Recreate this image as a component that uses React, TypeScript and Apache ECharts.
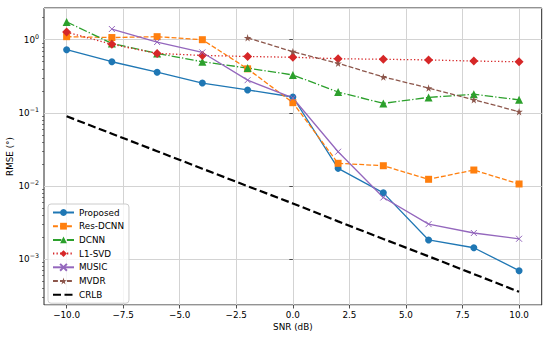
import React, { useEffect, useRef } from 'react';
import * as echarts from 'echarts';

const snr = [-10, -8, -6, -4, -2, 0, 2, 4, 6, 8, 10];
const proposed = [0.73, 0.5, 0.36, 0.256, 0.206, 0.165, 0.0175, 0.0081, 0.00184, 0.00144, 0.0007];
const resDcnn = [1.1, 1.07, 1.1, 1.0, 0.4, 0.138, 0.0205, 0.019, 0.0124, 0.0166, 0.0107];
const dcnn = [1.75, 0.89, 0.65, 0.5, 0.41, 0.33, 0.193, 0.135, 0.163, 0.18, 0.151];
const l1svd = [1.27, 0.865, 0.65, 0.61, 0.59, 0.575, 0.55, 0.54, 0.53, 0.51, 0.5];
const music = [null, 1.4, 0.93, 0.67, 0.28, 0.16, 0.0295, 0.007, 0.00303, 0.00229, 0.00191];
const mvdr = [null, null, null, null, 1.06, 0.686, 0.476, 0.31, 0.219, 0.151, 0.104];
const crlb = [0.09, 0.052, 0.03, 0.0173, 0.01, 0.0058, 0.0033, 0.0019, 0.0011, 0.00063, 0.00036];

const xTickValues = [-10, -7.5, -5, -2.5, 0, 2.5, 5, 7.5, 10];
const yMinorTickValues: number[] = [];
for (let e = -4; e <= 0; e++) {
  for (let m = 2; m <= 9; m++) {
    const v = m * Math.pow(10, e);
    if (v > 0.000238 && v < 2.71) yMinorTickValues.push(v);
  }
}

const FONT = 'DejaVu Sans';
const FS = 8.8;

const pairs = (ys: (number | null)[]) =>
  snr.map((x, i) => [x, ys[i]] as [number, number | null]).filter((p) => p[1] !== null);

const STAR = 'path://M50,0 L61,35 L98,35 L68,57 L79,91 L50,70 L21,91 L32,57 L2,35 L39,35 Z';
const XMARK = 'path://M0,0 L10,10 M10,0 L0,10';

export default function App() {
  const ref = useRef<HTMLDivElement>(null);
  useEffect(() => {
    if (!ref.current) return;
    const chart = echarts.init(ref.current, undefined, { renderer: 'svg' });
    const lw = 1.3;
    const mk = (
      name: string,
      data: (number | null)[],
      color: string,
      symbol: string,
      symbolSize: number,
      dash: any,
      width = lw,
      extraItem: any = {}
    ) => ({
      name,
      type: 'line',
      data: pairs(data),
      symbol,
      symbolSize,
      showSymbol: symbolSize > 0,
      lineStyle: { color, width, type: dash },
      itemStyle: { color, ...extraItem },
      emphasis: { disabled: true },
      z: 3,
    });
    const minus = (s: string) => s.replace('-', '\u2212');
    chart.setOption({
      animation: false,
      backgroundColor: '#ffffff',
      textStyle: { fontFamily: FONT },
      grid: {
        left: 44,
        right: 8.3,
        top: 8,
        bottom: 32,
        show: true,
        borderColor: '#262626',
        borderWidth: 1,
        backgroundColor: 'transparent',
        outerBoundsMode: 'none',
        containLabel: false,
      },
      legend: {
        left: 48,
        top: 204,
        orient: 'vertical',
        itemWidth: 21,
        itemHeight: 8.5,
        itemGap: 4.7,
        padding: [4, 5, 4, 4],
        backgroundColor: 'rgba(255,255,255,0.8)',
        borderColor: '#cccccc',
        borderWidth: 1,
        borderRadius: 3,
        textStyle: { fontFamily: FONT, fontSize: FS, color: '#000', lineHeight: 8.5 },
        data: ['Proposed', 'Res-DCNN', 'DCNN', 'L1-SVD', 'MUSIC', 'MVDR', 'CRLB'],
      },
      xAxis: {
        type: 'value',
        min: -11,
        max: 11,
        name: 'SNR (dB)',
        nameLocation: 'middle',
        nameGap: 17,
        nameMoveOverlap: false,
        nameTextStyle: { fontFamily: FONT, fontSize: FS, color: '#000' },
        axisLine: { show: false },
        axisTick: {
          show: true,
          inside: false,
          length: 3.5,
          customValues: xTickValues,
          lineStyle: { color: '#262626', width: 0.8 },
        },
        axisLabel: {
          customValues: xTickValues,
          fontFamily: FONT,
          fontSize: FS,
          color: '#000',
          margin: 5,
          formatter: (v: number) => minus(v.toFixed(1)),
        },
        splitLine: { show: true, lineStyle: { color: '#d3d3d3', width: 1 } },
      },
      yAxis: [
        {
          type: 'log',
          logBase: 10,
          min: 0.000238,
          max: 2.71,
          name: 'RMSE (°)',
          nameLocation: 'middle',
          nameGap: 30,
          nameMoveOverlap: false,
          nameTextStyle: { fontFamily: FONT, fontSize: FS, color: '#000' },
          axisLine: { show: false },
          axisTick: { show: true, length: 3.5, lineStyle: { color: '#262626', width: 0.8 } },
          axisLabel: {
            showMinLabel: false,
            showMaxLabel: false,
            margin: 5,
            fontFamily: FONT,
            fontSize: FS,
            color: '#000',
            formatter: (v: number) => {
              const e = Math.log10(v);
              const r = Math.round(e);
              if (Math.abs(e - r) > 1e-6) return '';
              return '10{sup|' + (r < 0 ? '\u2212' + -r : String(r)) + '}';
            },
            rich: {
              sup: { fontFamily: FONT, fontSize: 6.3, color: '#000', padding: [0, 0, 7, 0] },
            },
          },
          splitLine: { show: true, lineStyle: { color: '#d3d3d3', width: 1 } },
        },
        {
          type: 'log',
          logBase: 10,
          min: 0.000238,
          max: 2.71,
          position: 'left',
          axisLine: { show: false },
          axisLabel: { show: false },
          splitLine: { show: false },
          axisTick: {
            show: true,
            length: 2,
            customValues: yMinorTickValues,
            lineStyle: { color: '#262626', width: 0.6 },
          },
        },
      ],
      series: [
        mk('Proposed', proposed, '#1f77b4', 'circle', 7, 'solid'),
        mk('Res-DCNN', resDcnn, '#ff7f0e', 'rect', 7, [4.9, 2.1]),
        mk('DCNN', dcnn, '#2ca02c', 'triangle', 8, [8.4, 2.1, 1.3, 2.1]),
        mk('L1-SVD', l1svd, '#d62728', 'diamond', 9, [1.3, 2.2]),
        mk('MUSIC', music, '#9467bd', XMARK, 6, 'solid', lw, {
          borderColor: '#9467bd',
          borderWidth: 1,
        }),
        mk('MVDR', mvdr, '#8c564b', STAR, 7.5, [4.9, 2.1]),
        mk('CRLB', crlb, '#000000', 'circle', 0, [8, 3.5], 2.2, { opacity: 0 }),
      ],
    });
    return () => chart.dispose();
  }, []);
  return <div ref={ref} style={{ width: 550, height: 337, position: 'absolute', left: 0, top: 0 }} />;
}
